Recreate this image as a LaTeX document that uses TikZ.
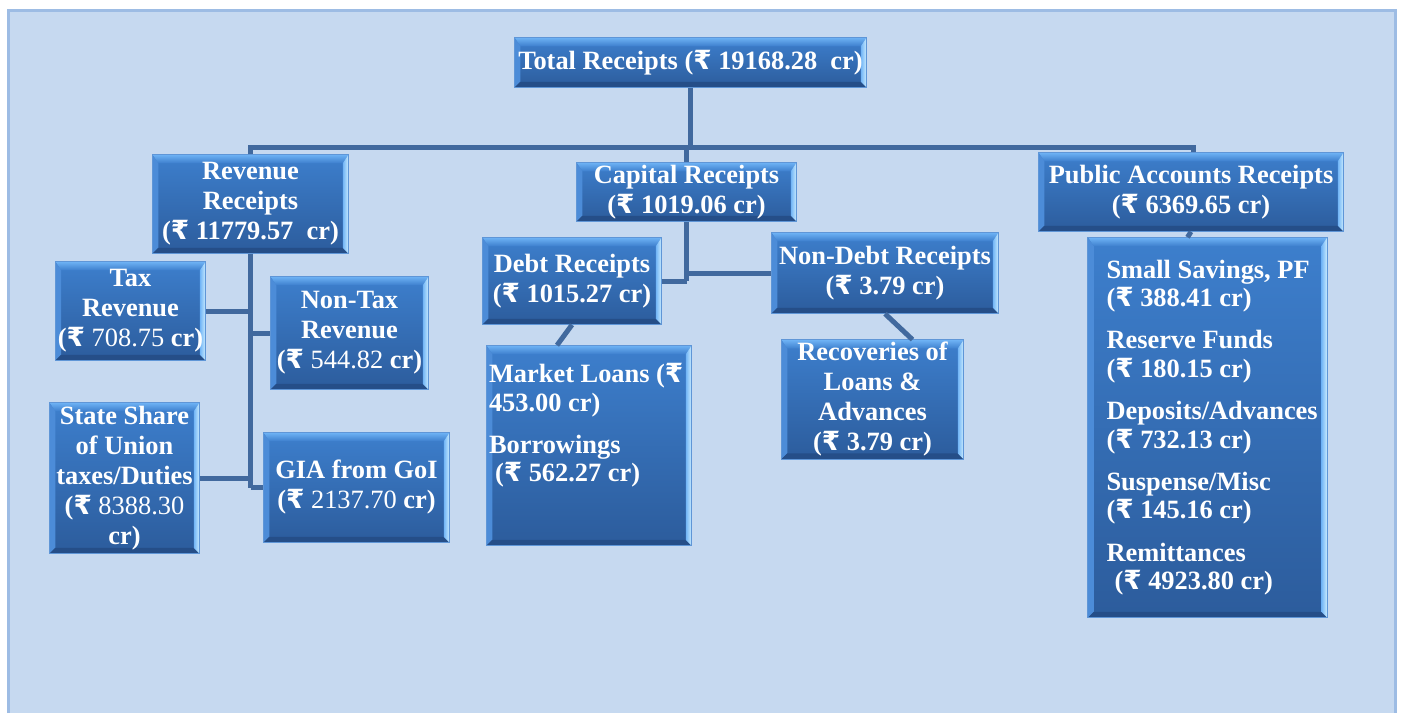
\documentclass[tikz,border=0pt]{standalone}
\usepackage{fontspec}
\setmainfont{Liberation Serif}
\newfontfamily\rupeefont{DejaVu Sans}
\usetikzlibrary{backgrounds}

\newcommand{\Rs}{{\rupeefont ₹}}
\definecolor{pagebg}{RGB}{198,217,240}
\definecolor{pageedge}{RGB}{157,188,228}
\definecolor{facetop}{RGB}{61,127,205}
\definecolor{facebot}{RGB}{44,92,156}
\definecolor{bevlight}{RGB}{112,180,246}
\definecolor{bevright}{RGB}{205,238,255}
\definecolor{bevleft}{RGB}{76,140,216}
\definecolor{bevdark}{RGB}{37,78,136}
\definecolor{boxedge}{RGB}{95,150,215}
\definecolor{wirecol}{RGB}{65,105,158}

\tikzset{every picture/.style={line width=0.75pt}}
\tikzset{
  rbox/.style={text=white, font=\fontsize{13.2}{15}\selectfont\bfseries, align=center, inner sep=1pt},
  listbox/.style={rbox, align=flush left, font=\fontsize{13.2}{14.2}\selectfont\bfseries},
  wire/.style={draw=wirecol, line width=2.5pt},
}
% face and bevel of one receipt box
\newcommand{\rbody}[1]{%
  \shade[top color=facetop, bottom color=facebot] (#1.north west) rectangle (#1.south east);
  \shade[top color=bevlight, bottom color=facetop] (#1.north west) -- (#1.north east) -- ([shift={(-6,9)}]#1.north east) -- ([shift={(6,9)}]#1.north west) -- cycle;
  \fill[bevleft] (#1.north west) -- ([shift={(6,9)}]#1.north west) -- ([shift={(6,-6)}]#1.south west) -- (#1.south west) -- cycle;
  \fill[bevdark] (#1.south west) -- ([shift={(6,-6)}]#1.south west) -- ([shift={(-6,-6)}]#1.south east) -- (#1.south east) -- cycle;
  \shade[left color=bevlight, right color=bevright] (#1.north east) -- ([shift={(-6,9)}]#1.north east) -- ([shift={(-6,-6)}]#1.south east) -- (#1.south east) -- cycle;
  \draw[boxedge, line width=0.6pt] (#1.north west) rectangle (#1.south east);
}

\begin{document}
\begin{tikzpicture}[x=0.5pt,y=0.5pt,yscale=-1,xscale=1]
    \useasboundingbox (0,0) rectangle (1401,713);

    % Text Node
    \node[rbox, minimum width=175.5pt, minimum height=24.5pt] (total) at (690.5,62.5) {Total Receipts (\Rs\ 19168.28~ cr)};
    % Text Node
    \node[rbox, minimum width=97.5pt, minimum height=49pt] (rev) at (250.5,204) {Revenue\\Receipts\\(\Rs\ 11779.57~ cr)};
    % Text Node
    \node[rbox, minimum width=73.5pt, minimum height=49pt] (tax) at (130.5,311) {Tax\\Revenue\\(\Rs\ {\mdseries 708.75} cr)};
    % Text Node
    \node[rbox, minimum width=78.5pt, minimum height=56pt] (nontax) at (349.5,333) {Non-Tax\\Revenue\\(\Rs\ {\mdseries 544.82} cr)};
    % Text Node
    \node[rbox, minimum width=74.5pt, minimum height=75pt] (state) at (124.5,478) {State Share\\of Union\\taxes/Duties\\(\Rs\ {\mdseries 8388.30}\\cr)};
    % Text Node
    \node[rbox, minimum width=92.5pt, minimum height=54.5pt] (gia) at (356.5,487.5) {GIA from GoI\\(\Rs\ {\mdseries 2137.70} cr)};
    % Text Node
    \node[rbox, minimum width=109.5pt, minimum height=29pt] (capital) at (686.5,192) {Capital Receipts\\(\Rs\ 1019.06 cr)};
    % Text Node
    \node[rbox, minimum width=89pt, minimum height=43pt] (debt) at (572,281) {Debt Receipts\\(\Rs\ 1015.27 cr)};
    % Text Node
    \node[rbox, minimum width=113pt, minimum height=40pt] (nondebt) at (885,273) {Non-Debt Receipts\\(\Rs\ 3.79 cr)};
    % Text Node
    \node[listbox, text width=100pt, inner xsep=1pt, minimum height=99.5pt] (market) at (589,445.5) {\mbox{Market Loans (\Rs}\\453.00 cr)\\[7pt]Borrowings\\\hspace*{3pt}(\Rs\ 562.27 cr)\par\vspace*{20pt}};
    % Text Node
    \node[rbox, minimum width=90.5pt, minimum height=57.5pt] (recov) at (872.5,399.5) {Recoveries of\\Loans \&\\Advances\\(\Rs\ 3.79 cr)};
    % Text Node
    \node[rbox, minimum width=152pt, minimum height=39pt] (public) at (1191,192) {Public Accounts Receipts\\(\Rs\ 6369.65 cr)};
    % Text Node
    \node[listbox, text width=101pt, inner xsep=9pt, minimum height=189.5pt] (pubitems) at (1207.5,427.5) {\mbox{Small Savings, PF}\\(\Rs\ 388.41 cr)\\[7pt]Reserve Funds\\(\Rs\ 180.15 cr)\\[7pt]\mbox{Deposits/Advances}\\(\Rs\ 732.13 cr)\\[7pt]Suspense/Misc\\(\Rs\ 145.16 cr)\\[7pt]Remittances\\\hspace*{4pt}(\Rs\ 4923.80 cr)};

    \begin{pgfonlayer}{background}
    \fill[white] (0,0) rectangle (1401,713);
    \fill[pagebg] (8,10) rectangle (1395,713);
    \draw[pageedge, line width=1.5pt] (8,713) -- (8,10) -- (1395,10) -- (1395,713);
    \foreach \n in {total,rev,tax,nontax,state,gia,capital,debt,nondebt,market,recov,public,pubitems}
      {\rbody{\n}}
    \end{pgfonlayer}

    \coordinate (topbus) at (690,147);
    %Straight Lines
    \draw[wire] (total.south) -- (total.south |- topbus);
    \draw[wire] (rev.north) -- (rev.north |- topbus) -- ([xshift=1pt]public.north |- topbus) -- ([xshift=1pt]public.north);
    \draw[wire] (capital.north |- topbus) -- (capital.north);
    %Straight Lines
    \draw[wire] (rev.south) -- (rev.south |- gia.west);
    \draw[wire] (tax.east) -- (tax.east -| rev.south);
    \draw[wire] (nontax.west -| rev.south) -- (nontax.west);
    \draw[wire] (state.east) -- (state.east -| rev.south);
    \draw[wire] (gia.west -| rev.south) -- (gia.west);
    %Straight Lines
    \draw[wire] (capital.south) -- (capital.south |- debt.east);
    \draw[wire] (debt.east) -- (debt.east -| capital.south);
    \draw[wire] (nondebt.west -| capital.south) -- (nondebt.west);
    \draw[wire] (debt.south) -- ([xshift=-16pt]market.north);
    \draw[wire] (nondebt.south) -- ([xshift=20pt]recov.north);
    \draw[wire] (public.south) -- ([xshift=-10pt]pubitems.north);

\end{tikzpicture}
\end{document}
